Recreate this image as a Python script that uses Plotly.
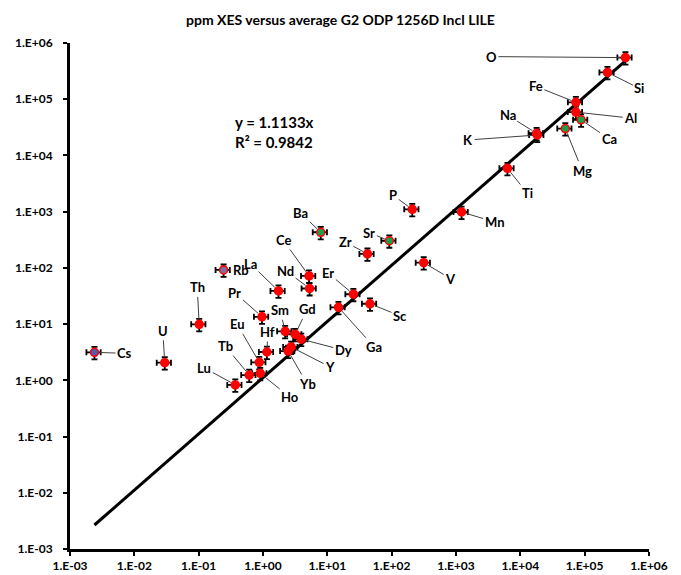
import numpy as np
import plotly.graph_objects as go

# Element concentrations: average G2 (x) vs ppm XES (y)
elements = ["O", "Si", "Fe", "Al", "Ca", "Mg", "Na", "K", "Ti", "Mn", "P", "Sr", "V",
            "Zr", "Ba", "Ce", "Nd", "La", "Er", "Sc", "Ga", "Rb", "Th", "U", "Cs", "Pr",
            "Sm", "Gd", "Dy", "Hf", "Y", "Yb", "Eu", "Tb", "Ho", "Lu"]
g2_avg = [4.3e5, 2.26e5, 7.3e4, 7.3e4, 8.8e4, 5.0e4, 1.79e4, 1.83e4, 6.3e3, 1.22e3, 209, 92, 315,
          42, 7.9, 5.2, 5.3, 1.74, 25.4, 46, 14.9, 0.244, 0.102, 0.0297, 0.0024, 0.964,
          2.21, 3.16, 3.93, 1.15, 2.74, 2.46, 0.875, 0.611, 0.906, 0.371]
xes_ppm = [5.5e5, 3.0e5, 8.8e4, 5.9e4, 4.3e4, 3.0e4, 2.48e4, 2.31e4, 5.9e3, 986, 1100, 304, 124,
           177, 430, 72, 43, 39, 34, 23, 19.9, 92, 9.9, 2.06, 3.15, 13.5,
           7.45, 6.6, 5.4, 3.19, 3.92, 3.32, 2.09, 1.24, 1.33, 0.83]
# Marker fill group per element
groups = ["r", "r", "r", "r", "g", "g", "p", "r", "r", "r", "r", "g", "r",
          "r", "g", "r", "r", "r", "r", "r", "r", "q", "r", "r", "b", "r",
          "r", "r", "r", "r", "r", "r", "r", "r", "r", "r"]
slope = 1.1133
r_squared = 0.9842

fill = {"r": "#FF0000", "g": "#1E9E48", "p": "#7A5CA8", "q": "#7E6F9C", "b": "#5558B0"}

# Label offsets (pixels) from each point to its text
label_offset = {
    "O": (-134, -1), "Si": (32, 16), "Fe": (-40, -16), "Al": (55, 6), "Ca": (28, 19),
    "Mg": (17, 42), "Na": (-29, -18), "K": (-69, 5), "Ti": (20, 25), "Mn": (33, 10),
    "P": (-19, -14), "Sr": (-20, -8), "V": (27, 16), "Zr": (-22, -12), "Ba": (-20, -19),
    "Ce": (-26, -36), "Nd": (-24, -18), "La": (-28, -27), "Er": (-25, -21), "Sc": (30, 12),
    "Ga": (36, 40), "Rb": (17, 0), "Th": (-2, -37), "U": (-2, -32), "Cs": (30, 1),
    "Pr": (-27, -24), "Sm": (-5, -21), "Gd": (12, -25), "Dy": (42, 11), "Hf": (1, -20),
    "Y": (39, 20), "Yb": (19, 33), "Eu": (-22, -38), "Tb": (-24, -29), "Ho": (30, 24),
    "Lu": (-31, -17),
}

FONT = "Lato"
tick_vals = [10.0 ** k for k in range(-3, 7)]
tick_text = ["1.E{:+03d}".format(k) for k in range(-3, 7)]

plot_l, plot_r, plot_t, plot_b = 70, 649, 43, 549
w, h = plot_r - plot_l, plot_b - plot_t

fig = go.Figure()

# Linear trendline through the origin over the data range
x_line = np.array([min(g2_avg), max(g2_avg)])
fig.add_trace(go.Scatter(
    x=x_line, y=slope * x_line, mode="lines",
    line=dict(color="black", width=3), hoverinfo="skip", showlegend=False,
))

fig.add_trace(go.Scatter(
    x=g2_avg, y=xes_ppm, mode="markers", text=elements,
    marker=dict(size=8, color=[fill[g] for g in groups],
                line=dict(color="#FF0000", width=1.5)),
    error_x=dict(type="percent", value=25, color="black", thickness=1.8, width=3),
    error_y=dict(type="percent", value=25, color="black", thickness=1.8, width=3),
    showlegend=False,
))

annotations = []
for name, xv, yv in zip(elements, g2_avg, xes_ppm):
    ax, ay = label_offset[name]
    annotations.append(dict(
        x=np.log10(xv), y=np.log10(yv), xref="x", yref="y", text=name,
        showarrow=True, arrowhead=0, arrowwidth=1, arrowcolor="#404040",
        ax=ax, ay=ay, standoff=5,
        font=dict(family=FONT, size=13, color="black", weight="bold"),
    ))

# Trendline equation
annotations.append(dict(
    x=(233 - plot_l) / w, y=(plot_b - 132) / h, xref="paper", yref="paper",
    showarrow=False, align="left", xanchor="left", yanchor="middle",
    text="y = {:.4f}x<br>R² = {:.4f}".format(slope, r_squared),
    font=dict(family=FONT, size=15, color="black", weight="bold"),
))

axis_common = dict(
    type="log", showgrid=False, zeroline=False,
    tickvals=tick_vals, ticktext=tick_text,
    showline=True, linecolor="black", linewidth=3,
    ticks="outside", ticklen=4, tickwidth=2, tickcolor="black",
    tickfont=dict(family=FONT, size=12, color="black", weight="bold"),
)

fig.update_layout(
    width=681, height=575,
    margin=dict(l=plot_l, r=681 - plot_r, t=plot_t, b=575 - plot_b, autoexpand=False),
    paper_bgcolor="white", plot_bgcolor="white",
    title=dict(text="ppm XES versus average G2 ODP 1256D Incl LILE",
               x=0.5, xanchor="center", y=1 - 20 / 575, yanchor="middle",
               font=dict(family=FONT, size=14, color="black", weight="bold")),
    xaxis=dict(range=[-3, 6], ticklabelstandoff=0, **axis_common),
    yaxis=dict(range=[-3, 6], ticklabelstandoff=8, **axis_common),
    # companion axes give the crossing tick marks on the inner side
    xaxis2=dict(type="log", range=[-3, 6], overlaying="x", anchor="y", side="bottom",
                tickvals=tick_vals, showticklabels=False, showgrid=False, zeroline=False,
                showline=False, ticks="inside", ticklen=4, tickwidth=2, tickcolor="black"),
    yaxis2=dict(type="log", range=[-3, 6], overlaying="y", anchor="x", side="left",
                tickvals=tick_vals, showticklabels=False, showgrid=False, zeroline=False,
                showline=False, ticks="inside", ticklen=4, tickwidth=2, tickcolor="black"),
    annotations=annotations,
    font=dict(family=FONT),
)

fig.write_html("out.html")
